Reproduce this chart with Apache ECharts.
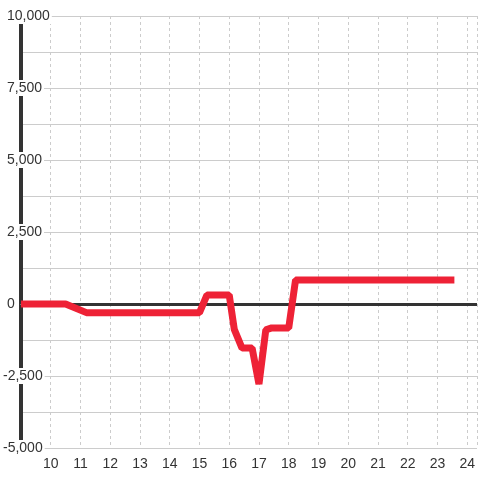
<!DOCTYPE html>
<html>
<head>
<meta charset="utf-8">
<script src="https://cdn.jsdelivr.net/npm/echarts@6/dist/echarts.min.js"></script>
<style>
  html, body { margin: 0; padding: 0; background: #fff; }
  #chart { width: 480px; height: 480px; }
</style>
</head>
<body>
<div id="chart"></div>
<script>
// values
const xValues = [9, 10.5, 11.2, 15.0, 15.25, 16.0, 16.17, 16.43, 16.77, 17.0, 17.23, 17.43, 18.0, 18.23, 23.57];
const yValues = [0, 0, -300, -300, 310, 310, -880, -1530, -1530, -2780, -900, -830, -830, 830, 830];

const xMin = 9;
const xMax = 24.33;
const yMin = -5000;
const yMax = 10000;

const lineColor = '#ee2236';
const points = xValues.map((x, i) => [x, yValues[i]]);

const chart = echarts.init(document.getElementById('chart'));

const fmt = v => Math.abs(v).toLocaleString('en-US');

chart.setOption({
  animation: false,
  backgroundColor: '#fff',
  grid: { left: 20, right: 0, top: 16, bottom: 32 },
  xAxis: {
    type: 'value',
    min: xMin,
    max: xMax,
    interval: 1,
    axisLine: { show: true, lineStyle: { color: '#ccc', width: 1 } },
    axisTick: { show: false },
    axisLabel: {
      color: '#333',
      fontSize: 14,
      fontFamily: 'Liberation Sans',
      margin: 9,
      showMinLabel: false,
      formatter: v => (v >= 10 && v === Math.round(v) ? String(v) : '')
    },
    splitLine: { show: true, lineStyle: { color: '#ccc', type: [3, 3], width: 1 } }
  },
  yAxis: {
    type: 'value',
    min: yMin,
    max: yMax,
    interval: 2500,
    axisLine: { show: true, lineStyle: { color: '#333', width: 4 } },
    axisTick: { show: false },
    minorTick: { show: false, splitNumber: 2 },
    minorSplitLine: { show: true, lineStyle: { color: '#ccc', width: 1 } },
    splitLine: { show: true, lineStyle: { color: '#ccc', width: 1 } },
    axisLabel: {
      align: 'left',
      margin: 18,
      color: '#333',
      fontSize: 14,
      fontFamily: 'Liberation Sans',
      backgroundColor: '#fff',
      padding: [1, 2, 1, 0],
      formatter: v => (v < 0 ? '{n|-' + fmt(v) + '}' : '{p|' + fmt(v) + '}'),
      rich: {
        n: { color: '#333', fontSize: 14, fontFamily: 'Liberation Sans' },
        p: { color: '#333', fontSize: 14, fontFamily: 'Liberation Sans', padding: [0, 0, 0, 4] }
      }
    }
  },
  series: [
    {
      type: 'line',
      data: points,
      symbol: 'none',
      lineStyle: { color: lineColor, width: 7 },
      z: 5,
      markLine: {
        silent: true,
        symbol: 'none',
        label: { show: false },
        lineStyle: { color: '#333', width: 3, type: 'solid' },
        data: [{ yAxis: 0 }],
        z: 3
      }
    }
  ]
});
</script>
</body>
</html>
